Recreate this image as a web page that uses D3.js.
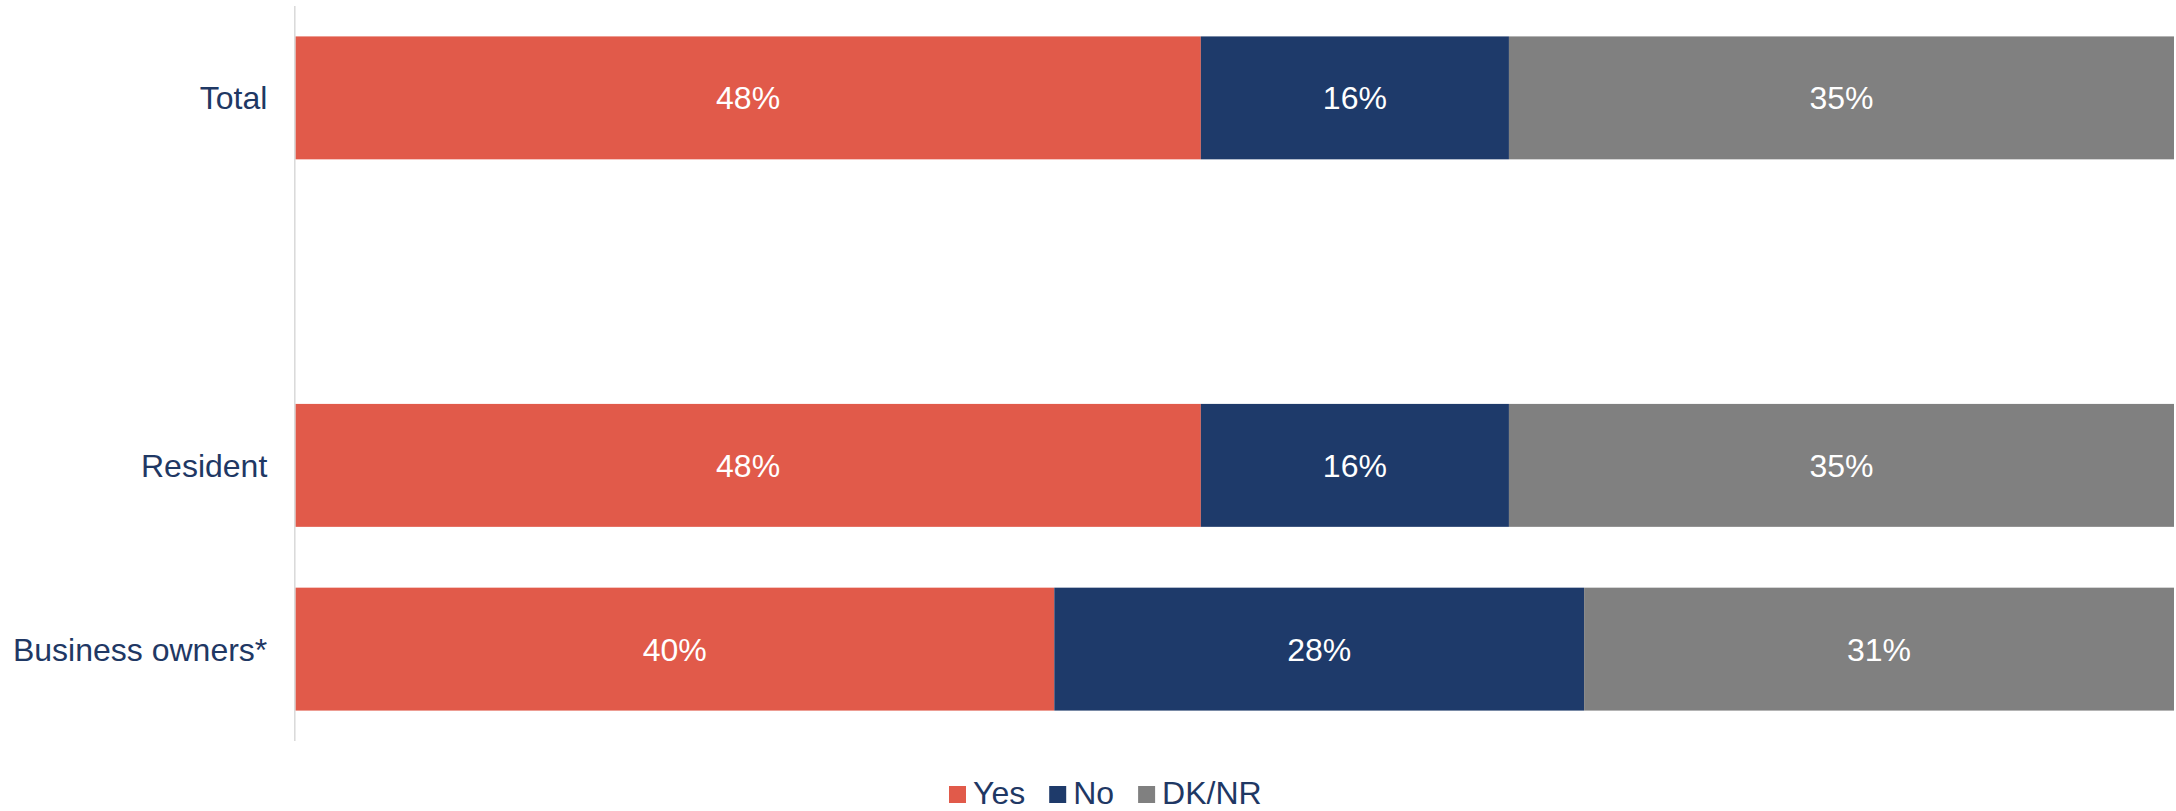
<!DOCTYPE html>
<html>
<head>
<meta charset="utf-8">
<script src="https://cdn.jsdelivr.net/npm/d3@7/dist/d3.min.js"></script>
<style>
  html, body { margin: 0; padding: 0; background: #ffffff; }
  svg { display: block; font-family: "Liberation Sans", Arial, sans-serif; }
</style>
</head>
<body>
<svg id="chart" width="2176" height="811"></svg>
<script>
// Data
const categories = ["Total", "", "Resident", "Business owners*"];
const seriesNames = ["Yes", "No", "DK/NR"];
const yesValues = [48.2, null, 48.2, 40.4];
const noValues  = [16.4, null, 16.4, 28.2];
const dkValues  = [35.4, null, 35.4, 31.4];
const colors = ["#E15A4A", "#1E3A6A", "#808080"];

(function () {
const svg = d3.select("#chart");
const plotLeft = 295.3, plotRight = 2174;
const plotTop = 6, plotBottom = 741;

const x = d3.scaleLinear().domain([0, 100]).range([plotLeft, plotRight]);
const y = d3.scaleBand().domain(categories.map((c, i) => i)).range([plotTop, plotBottom])
  .paddingInner(0.331).paddingOuter(0.1655);

const series = [yesValues, noValues, dkValues];

categories.forEach((cat, i) => {
  if (yesValues[i] == null) return;
  let acc = 0;
  series.forEach((vals, s) => {
    const v = vals[i];
    const x0 = x(acc), x1 = x(acc + v);
    svg.append("rect")
      .attr("x", x0).attr("y", y(i))
      .attr("width", x1 - x0).attr("height", y.bandwidth())
      .attr("fill", colors[s]);
    svg.append("text")
      .attr("x", (x0 + x1) / 2)
      .attr("y", y(i) + y.bandwidth() / 2)
      .attr("dy", "0.36em")
      .attr("text-anchor", "middle")
      .attr("fill", "#ffffff")
      .attr("font-size", 32)
      .text(Math.round(v) + "%");
    acc += v;
  });
});

// Category axis
svg.append("line")
  .attr("x1", plotLeft - 0.5).attr("x2", plotLeft - 0.5)
  .attr("y1", plotTop).attr("y2", plotBottom)
  .attr("stroke", "#d9d9d9").attr("stroke-width", 1.5);

categories.forEach((cat, i) => {
  svg.append("text")
    .attr("x", plotLeft - 28)
    .attr("y", y(i) + y.bandwidth() / 2)
    .attr("dy", "0.36em")
    .attr("text-anchor", "end")
    .attr("fill", "#1F3864")
    .attr("font-size", 32)
    .text(cat);
});

// Legend
let lx = 949;
const ly = 786;
seriesNames.forEach((name, s) => {
  svg.append("rect")
    .attr("x", lx).attr("y", ly)
    .attr("width", 17).attr("height", 17)
    .attr("fill", colors[s]);
  const t = svg.append("text")
    .attr("x", lx + 24).attr("y", ly + 18)
    .attr("fill", "#1F3864")
    .attr("font-size", 32)
    .text(name);
  lx = lx + 24 + t.node().getComputedTextLength() + 24;
});
})();
</script>
</body>
</html>
